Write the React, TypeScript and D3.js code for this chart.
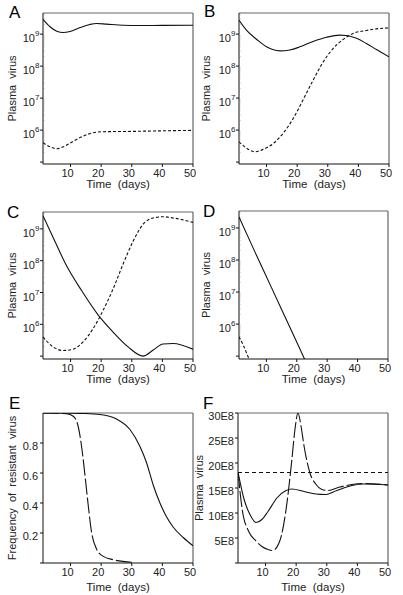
import React from "react";
import * as d3 from "d3";

type Pt = [number, number];

// ---------- data ----------
const xTicks = [10, 20, 30, 40, 50];
const logTicks = [1e5, 1e6, 1e7, 1e8, 1e9];
const logTickExp = ["", "6", "7", "8", "9"];
const freqTicks = [0, 0.2, 0.4, 0.6, 0.8];
const freqLabels = ["", "0.2", "0.4", "0.6", "0.8"];
const virusTicks = [0, 5e8, 10e8, 15e8, 20e8, 25e8, 30e8];
const virusLabels = ["", "5E8", "10E8", "15E8", "20E8", "25E8", "30E8"];

const aSolid: Pt[] = [[1, 2.9e9], [3.3, 1.7e9], [5.5, 1.23e9], [7.6, 1.12e9], [9.8, 1.2e9], [13.1, 1.6e9], [16.3, 2.0e9], [18.5, 2.15e9], [21.8, 2.05e9], [27.2, 1.9e9], [32.6, 1.85e9], [40, 1.88e9], [50, 1.9e9]];
const aDashed: Pt[] = [[1, 4e5], [3.3, 3e5], [5.5, 2.6e5], [7.6, 3e5], [10.9, 4.5e5], [14.2, 6.5e5], [17.4, 8.3e5], [20.7, 8.9e5], [30, 9.1e5], [40, 9.5e5], [50, 9.8e5]];

const bSolid: Pt[] = [[1, 2.75e9], [3.5, 1.3e9], [6.8, 6.8e8], [10, 4e8], [14.4, 3e8], [17.6, 3.2e8], [20.9, 4e8], [25.2, 5.9e8], [29.6, 8e8], [33.9, 9.3e8], [36.1, 9.1e8], [39.4, 7.4e8], [42.6, 5.1e8], [45.9, 3.3e8], [50, 1.95e8]];
const bDashed: Pt[] = [[1, 4.3e5], [3.5, 2.7e5], [6.2, 2.1e5], [8.9, 2.5e5], [12.2, 3.8e5], [15.4, 7.9e5], [18.7, 2.3e6], [21.9, 8.7e6], [25.2, 3.6e7], [28.5, 1.35e8], [31.7, 3.5e8], [35, 6.8e8], [38.3, 1.05e9], [42.6, 1.3e9], [47, 1.5e9], [50, 1.55e9]];

const cSolid: Pt[] = [[1, 2.6e9], [4.8, 4.2e8], [8.7, 6.9e7], [13.6, 1.15e7], [18.8, 2.1e6], [23.9, 5.7e5], [28.8, 1.95e5], [33.7, 1.0e5], [37, 1.55e5], [40.2, 2.4e5], [43.5, 2.5e5], [50, 1.65e5]];
const cDashed: Pt[] = [[1, 4e5], [4.3, 1.95e5], [7.5, 1.5e5], [10.8, 1.65e5], [14.1, 2.8e5], [17.4, 7.4e5], [20.6, 2.7e6], [23.9, 1.3e7], [27.2, 8e7], [30.5, 4.2e8], [33.7, 1.4e9], [37, 2.2e9], [40.2, 2.4e9], [43.5, 2.2e9], [50, 1.6e9]];

const dSolid: Pt[] = [[1, 2.2e9], [6, 2.0e8], [11, 1.9e7], [16, 1.8e6], [21, 1.7e5], [23, 6.5e4]];
const dDashed: Pt[] = [[1, 4e5], [2.4, 2.2e5], [4, 9.5e4], [4.6, 7e4]];

const eSolid: Pt[] = [[1, 1.0], [8.7, 0.999], [14, 0.997], [19.6, 0.99], [25, 0.96], [29.4, 0.89], [32.6, 0.78], [34.8, 0.67], [37, 0.52], [39.2, 0.4], [41.3, 0.31], [43.5, 0.24], [46.8, 0.17], [50, 0.115]];
const eDashed: Pt[] = [[1, 1.0], [8.7, 0.995], [10.9, 0.978], [12.5, 0.91], [13.9, 0.73], [15, 0.53], [15.8, 0.38], [16.9, 0.2], [18.5, 0.093], [20.7, 0.044], [23.9, 0.022], [30.5, 0.004]];

const fSolid: Pt[] = [[1, 18.2e8], [3, 12.7e8], [4.9, 9.7e8], [6.9, 8.1e8], [8.8, 8.7e8], [10.8, 10.3e8], [13.7, 13e8], [16.7, 14.5e8], [18.6, 14.8e8], [22.6, 14.3e8], [26.5, 13.8e8], [29.4, 13.7e8], [33.3, 14.5e8], [38.2, 15.5e8], [42.2, 15.8e8], [50, 15.6e8]];
const fLongDash: Pt[] = [[1, 18.2e8], [2.4, 10.6e8], [4.5, 6.3e8], [6.9, 4.4e8], [8.8, 3.3e8], [10.8, 2.7e8], [12.3, 2.5e8], [14.7, 4.5e8], [16.7, 10.7e8], [18.6, 20.7e8], [19.6, 26.7e8], [20.6, 30e8], [21.6, 27.3e8], [22.6, 23.3e8], [24.5, 18e8], [26.5, 15.7e8], [28.4, 14.7e8], [30.4, 14.5e8], [34.3, 15.2e8], [38.2, 15.7e8], [42.2, 15.9e8], [50, 15.6e8]];
const fFlat: Pt[] = [[1, 18.1e8], [50, 18.1e8]];

// ---------- layout ----------
const FONT = "'Liberation Sans', Arial, sans-serif";
const INK = "#111";
const TXT = "#222";

type Box = { l: number; r: number; t: number; b: number };
type Series = { data: Pt[]; dash?: string };
type PanelProps = {
  id: string;
  box: Box;
  kind: "log" | "freq" | "virus";
  yDomain: [number, number];
  series: Series[];
  yLabel: string;
  yLabelX: number;
  letter: string;
  letterX: number;
  letterY: number;
  titleDy: number;
};

function Panel(p: PanelProps) {
  const { box } = p;
  const x = d3.scaleLinear().domain([1, 50]).range([box.l, box.r]);
  const y =
    p.kind === "log"
      ? d3.scaleLog().domain(p.yDomain).range([box.b, box.t])
      : d3.scaleLinear().domain(p.yDomain).range([box.b, box.t]);
  const line = d3
    .line<Pt>()
    .x((d) => x(d[0]))
    .y((d) => y(d[1]))
    .curve(d3.curveMonotoneX);
  const clip = `clip-${p.id}`;

  const minor: number[] = [];
  if (p.kind === "log") {
    for (let e = 5; e <= 9; e++)
      for (let m = 2; m <= 9; m++) {
        const v = m * Math.pow(10, e);
        if (v <= p.yDomain[1]) minor.push(v);
      }
  }

  const yTickVals = p.kind === "log" ? logTicks : p.kind === "freq" ? freqTicks : virusTicks;

  return (
    <g>
      <defs>
        <clipPath id={clip}>
          <rect x={box.l} y={box.t} width={box.r - box.l} height={box.b - box.t} />
        </clipPath>
      </defs>
      <line x1={box.l} x2={box.r} y1={box.t} y2={box.t} stroke="#666" strokeWidth={1.2} />
      <line x1={box.r} x2={box.r} y1={box.t} y2={box.b} stroke="#666" strokeWidth={1.2} />
      <line x1={box.l} x2={box.l} y1={box.t} y2={box.b} stroke={INK} strokeWidth={1} />
      <line x1={box.l} x2={box.r} y1={box.b} y2={box.b} stroke={INK} strokeWidth={1} />
      {minor.map((v, i) => (
        <line key={"m" + i} x1={box.l} x2={box.l + 1.5} y1={y(v)} y2={y(v)} stroke="#888" strokeWidth={0.7} />
      ))}
      {yTickVals.map((v, i) => {
        const ty = y(v);
        return (
          <g key={"y" + i}>
            <line x1={box.l - 3} x2={box.l} y1={ty} y2={ty} stroke={INK} strokeWidth={1} />
            {p.kind === "log" && logTickExp[i] !== "" && (
              <g fill={TXT} fontFamily={FONT}>
                <text x={box.l - 8} y={ty + 8} textAnchor="end" fontSize={11}>10</text>
                <text x={box.l - 8} y={ty + 2} textAnchor="start" fontSize={8}>{logTickExp[i]}</text>
              </g>
            )}
            {p.kind === "freq" && (
              <text x={box.l - 5} y={ty + 7} textAnchor="end" fontSize={11} fill={TXT} fontFamily={FONT}>
                {freqLabels[i]}
              </text>
            )}
            {p.kind === "virus" && (
              <text x={box.l - 4} y={ty + 7} textAnchor="end" fontSize={11} fill={TXT} fontFamily={FONT}>
                {virusLabels[i]}
              </text>
            )}
          </g>
        );
      })}
      {xTicks.map((v) => (
        <g key={"x" + v}>
          <line x1={x(v)} x2={x(v)} y1={box.b} y2={box.b + 3} stroke={INK} strokeWidth={1} />
          <text x={x(v) - 3} y={box.b + 13} textAnchor="middle" fontSize={11} fill={TXT} fontFamily={FONT}>
            {v}
          </text>
        </g>
      ))}
      {p.series.map((s, i) => (
        <path
          key={"s" + i}
          d={line(s.data) || ""}
          fill="none"
          stroke={INK}
          strokeWidth={1.1}
          strokeDasharray={s.dash}
          clipPath={`url(#${clip})`}
        />
      ))}
      <text
        x={(box.l + box.r) / 2}
        y={box.b + p.titleDy}
        textAnchor="middle"
        fontSize={11.5}
        fill={TXT}
        fontFamily={FONT}
        xmlSpace="preserve"
        style={{ whiteSpace: "pre" }}
      >
        {"Time  (days)"}
      </text>
      <text
        transform={`translate(${p.yLabelX},${(box.t + box.b) / 2}) rotate(-90)`}
        textAnchor="middle"
        fontSize={11}
        fill={TXT}
        fontFamily={FONT}
        xmlSpace="preserve"
        style={{ whiteSpace: "pre" }}
      >
        {p.yLabel}
      </text>
      <text x={p.letterX} y={p.letterY} fontSize={17} fill="#000" fontFamily={FONT}>
        {p.letter}
      </text>
    </g>
  );
}

const SHORT = "3,2";
const LONG = "16,3";

export default function App() {
  const logAB: [number, number] = [Math.pow(10, 4.94), Math.pow(10, 9.66)];
  const logCD: [number, number] = [Math.pow(10, 4.91), Math.pow(10, 9.53)];
  return (
    <svg
      width={403}
      height={595}
      viewBox="0 0 403 595"
      style={{ position: "absolute", left: 0, top: 0, background: "#fff" }}
    >
      <rect width={403} height={595} fill="#fff" />
      <Panel id="A" box={{ l: 43, r: 193, t: 13, b: 164 }} kind="log" yDomain={logAB}
        series={[{ data: aSolid }, { data: aDashed, dash: SHORT }]}
        yLabel={"Plasma  virus"} yLabelX={16} letter="A" letterX={9} letterY={18} titleDy={24} />
      <Panel id="B" box={{ l: 239, r: 389, t: 13, b: 164 }} kind="log" yDomain={logAB}
        series={[{ data: bSolid }, { data: bDashed, dash: SHORT }]}
        yLabel={"Plasma  virus"} yLabelX={210} letter="B" letterX={204} letterY={17} titleDy={24} />
      <Panel id="C" box={{ l: 43, r: 193, t: 212, b: 359 }} kind="log" yDomain={logCD}
        series={[{ data: cSolid }, { data: cDashed, dash: SHORT }]}
        yLabel={"Plasma  virus"} yLabelX={16} letter="C" letterX={7} letterY={218} titleDy={24} />
      <Panel id="D" box={{ l: 239, r: 388, t: 211, b: 359 }} kind="log" yDomain={logCD}
        series={[{ data: dSolid }, { data: dDashed, dash: SHORT }]}
        yLabel={"Plasma  virus"} yLabelX={210} letter="D" letterX={203} letterY={217} titleDy={24} />
      <Panel id="E" box={{ l: 43, r: 193, t: 413, b: 563 }} kind="freq" yDomain={[0, 1]}
        series={[{ data: eSolid }, { data: eDashed, dash: LONG }]}
        yLabel={"Frequency  of  resistant  virus"} yLabelX={16} letter="E" letterX={9} letterY={409} titleDy={28} />
      <Panel id="F" box={{ l: 238, r: 388, t: 413, b: 563 }} kind="virus" yDomain={[0, 30e8]}
        series={[{ data: fSolid }, { data: fLongDash, dash: LONG }, { data: fFlat, dash: "4,3" }]}
        yLabel={"Plasma  virus"} yLabelX={203} letter="F" letterX={203} letterY={409} titleDy={28} />
    </svg>
  );
}
